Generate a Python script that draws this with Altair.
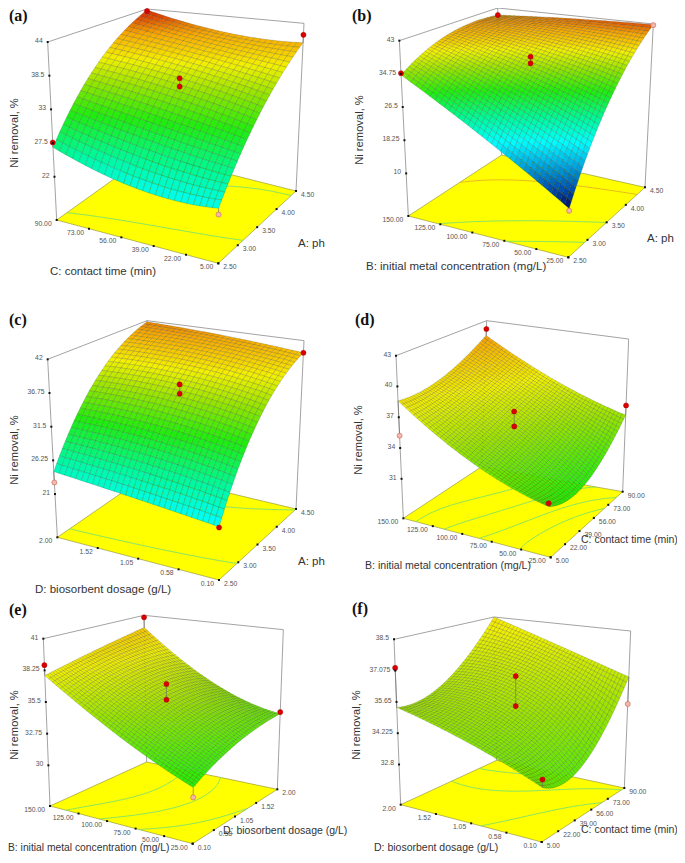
import numpy as np
import altair as alt

alt.data_transformers.disable_max_rows()

# ---------- values ----------
# Coarse response tables (Ni removal, %): rows run along the left floor axis,
# columns along the right floor axis. Only these nodes are read off the picture;
# the fine mesh cells are a visual resampling of them (a quadratic response surface).
Z_A = [[26.8, 37.4, 43.8], [23.1, 35.5, 41.0], [22.9, 32.9, 40.65]]
Z_B = [[34.45, 40.4, 40.9], [22.3, 35.9, 42.2], [10.5, 29.9, 42.8]]
Z_C = [[24.5, 36.1, 41.8], [23.2, 35.8, 41.1], [21.9, 33.9, 40.0]]
Z_D = [[38.6, 38.9, 41.4], [34.2, 35.7, 37.6], [31.9, 31.3, 35.1]]
Z_E = [[37.8, 38.8, 39.8], [33.8, 35.7, 35.3], [31.0, 32.7, 33.35]]
Z_F = [[35.4, 35.9, 38.5], [34.45, 35.5, 37.35], [33.26, 33.3, 36.3]]

ZT_A = [44, 38.5, 33, 27.5, 22]
ZT_B = [43, 34.75, 26.5, 18.25, 10]
ZT_C = [42, 36.75, 31.5, 26.25, 21]
ZT_D = [43, 40, 37, 34, 31]
ZT_E = [41, 38.25, 35.5, 32.75, 30]
ZT_F = [38.5, 37.075, 35.65, 34.225, 32.8]

PH = ["2.50", "3.00", "3.50", "4.00", "4.50"]
TIME_DOWN = ["90.00", "73.00", "56.00", "39.00", "22.00", "5.00"]
TIME_UP = ["5.00", "22.00", "39.00", "56.00", "73.00", "90.00"]
CONC_DOWN = ["150.00", "125.00", "100.00", "75.00", "50.00", "25.00"]
DOSE_DOWN = ["2.00", "1.52", "1.05", "0.58", "0.10"]
DOSE_UP = ["0.10", "0.58", "1.05", "1.52", "2.00"]

# design points: (left-axis fraction, right-axis fraction, response, is_below_surface)
PTS_A = [(0, 1, 43.6, 0), (1, 1, 42.0, 0), (0, 0, 27.6, 0), (1, 0, 22.0, 1), (.5, .5, 36.6, 0), (.5, .5, 35.2, 0)]
PTS_B = [(0, 1, 40.9, 0), (1, 1, 42.7, 1), (0, 0, 34.9, 0), (1, 0, 10.0, 1), (.5, .5, 37.3, 0), (.5, .5, 35.6, 0)]
PTS_C = [(1, 1, 40.0, 0), (0, 0, 22.8, 1), (1, 0, 21.8, 0), (.5, .5, 36.8, 0), (.5, .5, 35.3, 0)]
PTS_D = [(0, 1, 42.1, 0), (1, 1, 36.1, 0), (0, 0, 35.2, 1), (1, 0, 32.2, 0), (.5, .5, 36.9, 0), (.5, .5, 35.4, 0)]
PTS_E = [(0, 1, 40.8, 0), (1, 1, 33.5, 0), (0, 0, 38.7, 0), (1, 0, 30.2, 1), (.5, .5, 36.8, 0), (.5, .5, 35.4, 0)]
PTS_F = [(0, 0, 37.2, 0), (1, 1, 35.0, 1), (1, 0, 33.6, 0), (.5, .5, 36.7, 0), (.5, .5, 35.3, 0)]

LEVELS_A = [29.5, 39.8]
LEVELS_B = [19.6, 29.8, 40.7]
LEVELS_C = [28.2, 39.9]
LEVELS_D = [32.6, 34.1, 35.9, 37.7]
LEVELS_E = [33.0, 34.9, 36.8]
LEVELS_F = [34.3, 36.0, 37.3]

# response -> colour (Design-Expert rainbow as seen in the picture)
CM_Z = [10, 14, 18, 22, 26, 31, 35, 38, 41, 42, 43, 44, 46]
CM_C = ["#000050", "#0050b0", "#00a8e0", "#00ffff", "#00f8a0", "#20ec10", "#98e400",
        "#f4f000", "#f8a800", "#e87800", "#e04000", "#c83000", "#c02000"]

# ---------- layout (pixels in the reference; not data) ----------
W, H, M = 669, 847, 8
FLOOR_FRAC = 0.243


def c(off, *pts):
    return [(off[0] + p[0] / 3, off[1] + p[1] / 3) for p in pts]


PANELS = [
    dict(Z=Z_A, zt=ZT_A, left=TIME_DOWN, right=PH, pts=PTS_A, levels=LEVELS_A, n=26,
         corners=c((0, 0), (170, 660), (655, 790), (888, 573), (447, 462), (143, 126), (912, 70), (441, 27))),
    dict(Z=Z_B, zt=ZT_B, left=CONC_DOWN, right=PH, pts=PTS_B, levels=LEVELS_B, n=36,
         corners=c((340, 0), (205, 648), (685, 772), (915, 562), (485, 465), (178, 122), (940, 72), (473, 24))),
    dict(Z=Z_C, zt=ZT_C, left=DOSE_DOWN, right=PH, pts=PTS_C, levels=LEVELS_C, n=30,
         corners=c((0, 300), (172, 712), (657, 840), (888, 627), (447, 522), (143, 178), (912, 122), (441, 62))),
    dict(Z=Z_D, zt=ZT_D, left=CONC_DOWN, right=TIME_UP, pts=PTS_D, levels=LEVELS_D, n=40,
         corners=c((340, 300), (190, 655), (632, 772), (848, 575), (425, 500), (168, 167), (866, 117), (440, 62))),
    dict(Z=Z_E, zt=ZT_E, left=CONC_DOWN, right=DOSE_UP, pts=PTS_E, levels=LEVELS_E, n=40,
         corners=c((0, 582), (150, 672), (578, 785), (832, 622), (440, 540), (130, 170), (850, 143), (432, 100))),
    dict(Z=Z_F, zt=ZT_F, left=DOSE_DOWN, right=TIME_UP, pts=PTS_F, levels=LEVELS_F, n=40,
         corners=c((340, 582), (182, 668), (605, 780), (853, 618), (470, 535), (162, 172), (872, 147), (462, 105))),
]

TITLES = [
    ("C: contact time (min)", 50, 272, 11.5), ("A: ph", 298, 244, 11.5),
    ("B: initial metal concentration (mg/L)", 366, 267, 11.5), ("A: ph", 647, 239, 11.5),
    ("D: biosorbent dosage (g/L)", 35, 590, 11.5), ("A: ph", 298, 562, 11.5),
    ("B: initial metal concentration (mg/L)", 365, 566, 10.6), ("C: contact time (min)", 581, 540, 10.5),
    ("B: initial metal concentration (mg/L)", 8, 848, 10.3), ("D: biosorbent dosage (g/L)", 223, 831, 10.5),
    ("D: biosorbent dosage (g/L)", 374, 848, 10.5), ("C: contact time (min)", 581, 830, 10.5),
]
YTITLES = [(15, 133), (360, 130), (15, 450), (359, 440), (15, 725), (357, 725)]
LETTERS = [("(a)", 9, 16), ("(b)", 352, 16), ("(c)", 9, 320), ("(d)", 355, 320), ("(e)", 9, 610), ("(f)", 352, 609)]


# ---------- helpers ----------
def lagrange(nodes, x):
    x = np.atleast_1d(x)
    out = np.ones((len(x), len(nodes)))
    for j, nj in enumerate(nodes):
        for k, nk in enumerate(nodes):
            if j != k:
                out[:, j] *= (x - nk) / (nj - nk)
    return out


def resample(Z, s, r):
    Z = np.asarray(Z, float)
    ns = np.linspace(0, 1, Z.shape[0])
    nr = np.linspace(0, 1, Z.shape[1])
    return lagrange(ns, s) @ Z @ lagrange(nr, r).T


def colour(z):
    rgb = np.array([[int(h[i:i + 2], 16) for i in (1, 3, 5)] for h in CM_C], float)
    v = [np.interp(z, CM_Z, rgb[:, i]) for i in range(3)]
    return "#%02x%02x%02x" % tuple(int(round(a)) for a in v)


class Cam:
    def __init__(self, p):
        k = np.array(p["corners"], float)
        self.L0, self.F0, self.R0, self.B0, self.L1, self.R1, self.B1 = k
        self.F1 = self.F0 + (self.L1 - self.L0) + (self.R1 - self.R0) - (self.B1 - self.B0)
        self.zmax, self.zmin = p["zt"][0], p["zt"][-1]

    def w(self, z):
        return FLOOR_FRAC + (1 - FLOOR_FRAC) * (z - self.zmin) / (self.zmax - self.zmin)

    def at(self, s, r, w):
        low = (1 - s) * ((1 - r) * self.L0 + r * self.B0) + s * ((1 - r) * self.F0 + r * self.R0)
        top = (1 - s) * ((1 - r) * self.L1 + r * self.B1) + s * ((1 - r) * self.F1 + r * self.R1)
        return (1 - w) * low + w * top

    def pz(self, s, r, z):
        return self.at(s, r, self.w(z))


def pt(a):
    return [round(float(a[0]) - M, 2), round(float(a[1]) - M, 2)]


def poly(ring, fill):
    ring = [pt(a) for a in ring]
    ring.append(ring[0])
    return {"type": "Feature", "properties": {"c": fill}, "geometry": {"type": "Polygon", "coordinates": [ring]}}


def contour(Z, level, cam, n=70):
    g = np.linspace(0, 1, n + 1)
    F = resample(Z, g, g)
    segs = []
    for i in range(n):
        for j in range(n):
            v = [(g[i], g[j], F[i, j]), (g[i + 1], g[j], F[i + 1, j]),
                 (g[i + 1], g[j + 1], F[i + 1, j + 1]), (g[i], g[j + 1], F[i, j + 1])]
            cr = []
            for a in range(4):
                p, q = v[a], v[(a + 1) % 4]
                if (p[2] - level) * (q[2] - level) < 0:
                    t = (level - p[2]) / (q[2] - p[2])
                    cr.append(cam.at(p[0] + t * (q[0] - p[0]), p[1] + t * (q[1] - p[1]), 0))
            if len(cr) >= 2:
                segs.append([pt(cr[0]), pt(cr[1])])
            if len(cr) == 4:
                segs.append([pt(cr[2]), pt(cr[3])])
    return segs


# ---------- build tables ----------
floor, lines, cont, cells, stems, marks, ticks, lab_l, lab_r = [], [], [], [], [], [], [], [], []
for p in PANELS:
    cam = Cam(p)
    floor.append(poly([cam.L0, cam.F0, cam.R0, cam.B0], "#ffff00"))
    for a, b in [(cam.L0, cam.L1), (cam.R0, cam.R1), (cam.B0, cam.B1), (cam.L1, cam.B1), (cam.B1, cam.R1)]:
        pa, pb = pt(a), pt(b)
        lines.append(dict(x=pa[0], y=pa[1], x2=pb[0], y2=pb[1]))
    for lev in p["levels"]:
        segs = contour(p["Z"], lev, cam)
        if segs:
            cont.append({"type": "Feature", "properties": {"c": "#e8b020" if lev > 40.5 else "#78e070"},
                         "geometry": {"type": "MultiLineString", "coordinates": segs}})
    n = p["n"]
    g = np.linspace(0, 1, n + 1)
    F = resample(p["Z"], g, g)
    for j in range(n - 1, -1, -1):      # far side first, so that near cells paint over
        for i in range(n):
            ring = [cam.pz(g[i], g[j], F[i, j]), cam.pz(g[i + 1], g[j], F[i + 1, j]),
                    cam.pz(g[i + 1], g[j + 1], F[i + 1, j + 1]), cam.pz(g[i], g[j + 1], F[i, j + 1])]
            cells.append(poly(ring, colour((F[i, j] + F[i + 1, j] + F[i + 1, j + 1] + F[i, j + 1]) / 4)))
    for s, r, z, below in p["pts"]:
        a = pt(cam.pz(s, r, z))
        b = pt(cam.pz(s, r, float(resample(p["Z"], s, r)[0, 0])))
        stems.append(dict(x=a[0], y=a[1], x2=b[0], y2=b[1]))
        marks.append(dict(x=a[0], y=a[1], f="#f2b8ae" if below else "#d80000", e="#c05040" if below else "#b00000"))
    for z, txt in zip(p["zt"], p["zt"]):
        a = pt(cam.at(0, 0, cam.w(z)))
        ticks.append(dict(x=a[0], y=a[1]))
        lab_l.append(dict(x=a[0] - 5, y=a[1] - 1, t=str(txt)))
    for i, txt in enumerate(p["left"]):
        a = pt(cam.at(i / (len(p["left"]) - 1), 0, 0))
        ticks.append(dict(x=a[0], y=a[1]))
        lab_l.append(dict(x=a[0] - 5, y=a[1] + 4, t=txt))
    for i, txt in enumerate(p["right"]):
        a = pt(cam.at(1, i / (len(p["right"]) - 1), 0))
        ticks.append(dict(x=a[0], y=a[1]))
        lab_r.append(dict(x=a[0] + 5, y=a[1] + 4, t=txt))

# ---------- chart ----------
X = alt.X("x:Q", scale=alt.Scale(domain=[0, W], range=[0, W], nice=False, zero=False), axis=None)
Y = alt.Y("y:Q", scale=alt.Scale(domain=[0, H], range=[0, H], nice=False, zero=False), axis=None)
FILL = alt.Color("properties.c:N", scale=None, legend=None)
LINE = alt.Stroke("properties.c:N", scale=None, legend=None)


def data(rows):
    return alt.Data(values=rows)


def geo(ch):
    return ch.project(type="identity", scale=1, translate=[0, 0])


def text_layer(rows, sized=False, **kw):
    enc = dict(x=X, y=Y, text="t:N")
    if sized:
        enc["size"] = alt.Size("s:Q", scale=None, legend=None)
    return alt.Chart(data(rows)).mark_text(**kw).encode(**enc)


layers = [
    geo(alt.Chart(data(floor)).mark_geoshape(strokeWidth=0.6, stroke="#8a8a30").encode(color=FILL)),
    alt.Chart(data(lines)).mark_rule(color="#8c8c8c", strokeWidth=0.8).encode(x=X, y=Y, x2="x2:Q", y2="y2:Q"),
    geo(alt.Chart(data(cont)).mark_geoshape(filled=False, strokeWidth=0.9).encode(stroke=LINE)),
    geo(alt.Chart(data(cells)).mark_geoshape(stroke="#0a1a0a", strokeWidth=0.35, strokeOpacity=0.45).encode(color=FILL)),
    alt.Chart(data(stems)).mark_rule(color="#666666", strokeWidth=0.6).encode(x=X, y=Y, x2="x2:Q", y2="y2:Q"),
    alt.Chart(data(marks)).mark_point(filled=True, size=26, opacity=1, strokeWidth=0.5).encode(
        x=X, y=Y, fill=alt.Fill("f:N", scale=None, legend=None), stroke=alt.Stroke("e:N", scale=None, legend=None)),
    alt.Chart(data(ticks)).mark_point(shape="square", filled=True, size=4, color="#111111", opacity=1).encode(x=X, y=Y),
    text_layer(lab_l, align="right", baseline="middle", font="Liberation Sans", fontSize=6.8, color="#555555"),
    text_layer(lab_r, align="left", baseline="middle", font="Liberation Sans", fontSize=6.8, color="#555555"),
    text_layer([dict(t=t, x=x - M, y=y - M, s=s) for t, x, y, s in TITLES], sized=True, align="left", baseline="middle",
               font="Liberation Sans", color="#333333"),
    text_layer([dict(t="Ni removal, %", x=x - M + 0.0, y=y - M) for x, y in YTITLES], align="center",
               baseline="middle", angle=270, font="Liberation Sans", fontSize=11.2, color="#333333"),
    text_layer([dict(t=t, x=x - M, y=y - M) for t, x, y in LETTERS], align="left", baseline="middle",
               font="Liberation Serif", fontSize=16, fontWeight="bold", color="#111111"),
]

chart = alt.layer(*layers).properties(
    width=W, height=H, padding=0, background="white", autosize=alt.AutoSizeParams(type="none")
).configure_view(stroke=None)
chart.save("out.html", embed_options={"renderer": "svg", "actions": False})
